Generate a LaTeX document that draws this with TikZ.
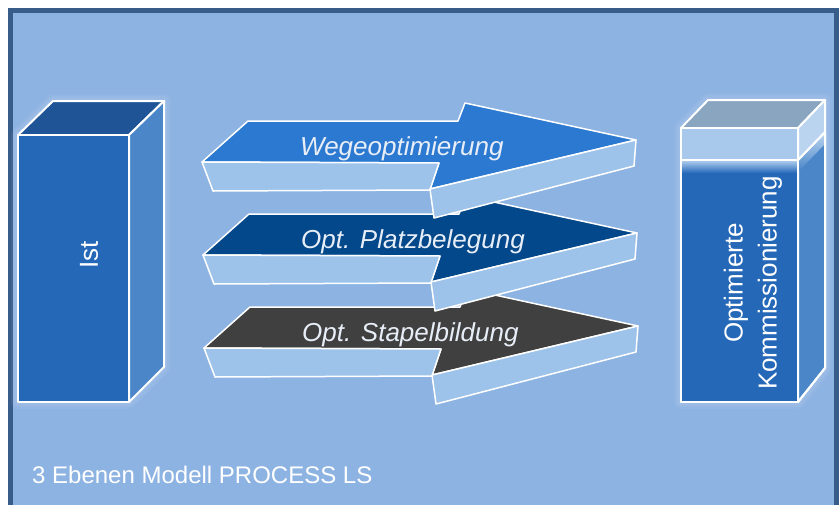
\documentclass[tikz,border=0pt]{standalone}
\usepackage{fontspec}
\setmainfont{Liberation Sans}
\definecolor{pagebg}{HTML}{8DB3E2}
\definecolor{framecol}{HTML}{385D8A}
\definecolor{boxfront}{HTML}{2568B8}
\definecolor{boxtop}{HTML}{1F5597}
\definecolor{boxside}{HTML}{4A86C8}
\definecolor{capstop}{HTML}{8AA5BF}
\definecolor{capfront}{HTML}{A9C9EC}
\definecolor{capside}{HTML}{BAD4F0}
\definecolor{slabfront}{HTML}{9DC3EB}
\definecolor{wegecol}{HTML}{2B79D0}
\definecolor{platzcol}{HTML}{03488A}
\definecolor{stapelcol}{HTML}{404040}
\definecolor{labelcol}{HTML}{E8EEF7}
\tikzset{
  edge/.style={draw=white, line width=1.5pt, line join=round},
  boxedge/.style={draw=white, line width=2pt, line join=round},
  arrowlabel/.style={anchor=base west, inner sep=0pt, text=labelcol,
    font=\fontsize{26}{30}\selectfont\itshape},
  boxlabel/.style={text=white, rotate=90, align=center, inner sep=0pt,
    font=\fontsize{26}{34}\selectfont},
}
% 3D arrow: #1,#2 shift, #3 top colour, #4 node name, #5 label
\newcommand\processarrow[5]{%
  \begin{scope}[shift={(#1,#2)}]
    \filldraw[edge, fill=#3] (202,162) -- (248,121) -- (458,121) -- (465,103)
      -- (636,140) -- (430,189) -- (439,163) -- cycle;
    \filldraw[edge, fill=slabfront] (202,162) -- (439,163) -- (430,190)
      -- (213,191) -- cycle;
    \filldraw[edge, fill=slabfront] (430,189) -- (636,140) -- (634,166)
      -- (434,218) -- cycle;
    \node[arrowlabel] (#4) at (300,155) {#5};
  \end{scope}}
% soft white halo behind a block
\newcommand\halo[1]{%
  \foreach \w in {14,10,6}
    \draw[white, opacity=0.05, line width=\w pt, line join=round] #1;}
\begin{document}
\begin{tikzpicture}[x=1pt,y=-1pt]
\useasboundingbox (0,0) rectangle (839,504);
% frame
\fill[white] (0,0) rectangle (839,504);
\fill[framecol] (8,8) rectangle (845,512);
\fill[pagebg] (13,13) rectangle (834,512);

% left block
\halo{(18,135) -- (53,101) -- (164,101) -- (164,367) -- (129,402) -- (18,402) -- cycle}
\filldraw[boxedge, fill=boxtop] (18,135) -- (53,101) -- (164,101) -- (129,135) -- cycle;
\filldraw[boxedge, fill=boxfront] (18,135) rectangle (129,402);
\filldraw[boxedge, fill=boxside] (129,135) -- (164,101) -- (164,367) -- (129,402) -- cycle;
\node[boxlabel] (ist) at (89,255) {Ist};

% right block
\halo{(681,128) -- (708,100) -- (825,100) -- (825,368) -- (798,402) -- (681,402) -- cycle}
\filldraw[boxedge, fill=boxfront] (681,160) rectangle (798,402);
\shade[top color=capfront, bottom color=boxfront] (682,161) rectangle (797,173);
\filldraw[boxedge, fill=boxside] (798,160) -- (825,132) -- (825,368) -- (798,402) -- cycle;
\shade[top color=capside, bottom color=boxside] (799,159) -- (824,133) -- (824,145) -- (799,171) -- cycle;
\draw[boxedge] (681,160) rectangle (798,402);
\draw[boxedge] (798,160) -- (825,132) -- (825,368) -- (798,402);
\filldraw[boxedge, fill=capstop] (681,128) -- (708,100) -- (825,100) -- (798,128) -- cycle;
\filldraw[boxedge, fill=capfront] (681,128) rectangle (798,160);
\filldraw[boxedge, fill=capside] (798,128) -- (825,100) -- (825,132) -- (798,160) -- cycle;
\node[boxlabel] (ziel) at (753,283) {Optimierte\\Kommissionierung};

% arrows, lowest first so the upper ones overlap
\processarrow{2}{186}{stapelcol}{stapel}{Opt. Stapelbildung}
\processarrow{1}{93}{platzcol}{platz}{Opt. Platzbelegung}
\processarrow{0}{0}{wegecol}{wege}{Wegeoptimierung}

% caption
\node[anchor=base west, inner sep=0pt, text=white,
  font=\fontsize{24}{28}\selectfont] (caption) at (32,483) {3 Ebenen Modell PROCESS LS};
\end{tikzpicture}
\end{document}
